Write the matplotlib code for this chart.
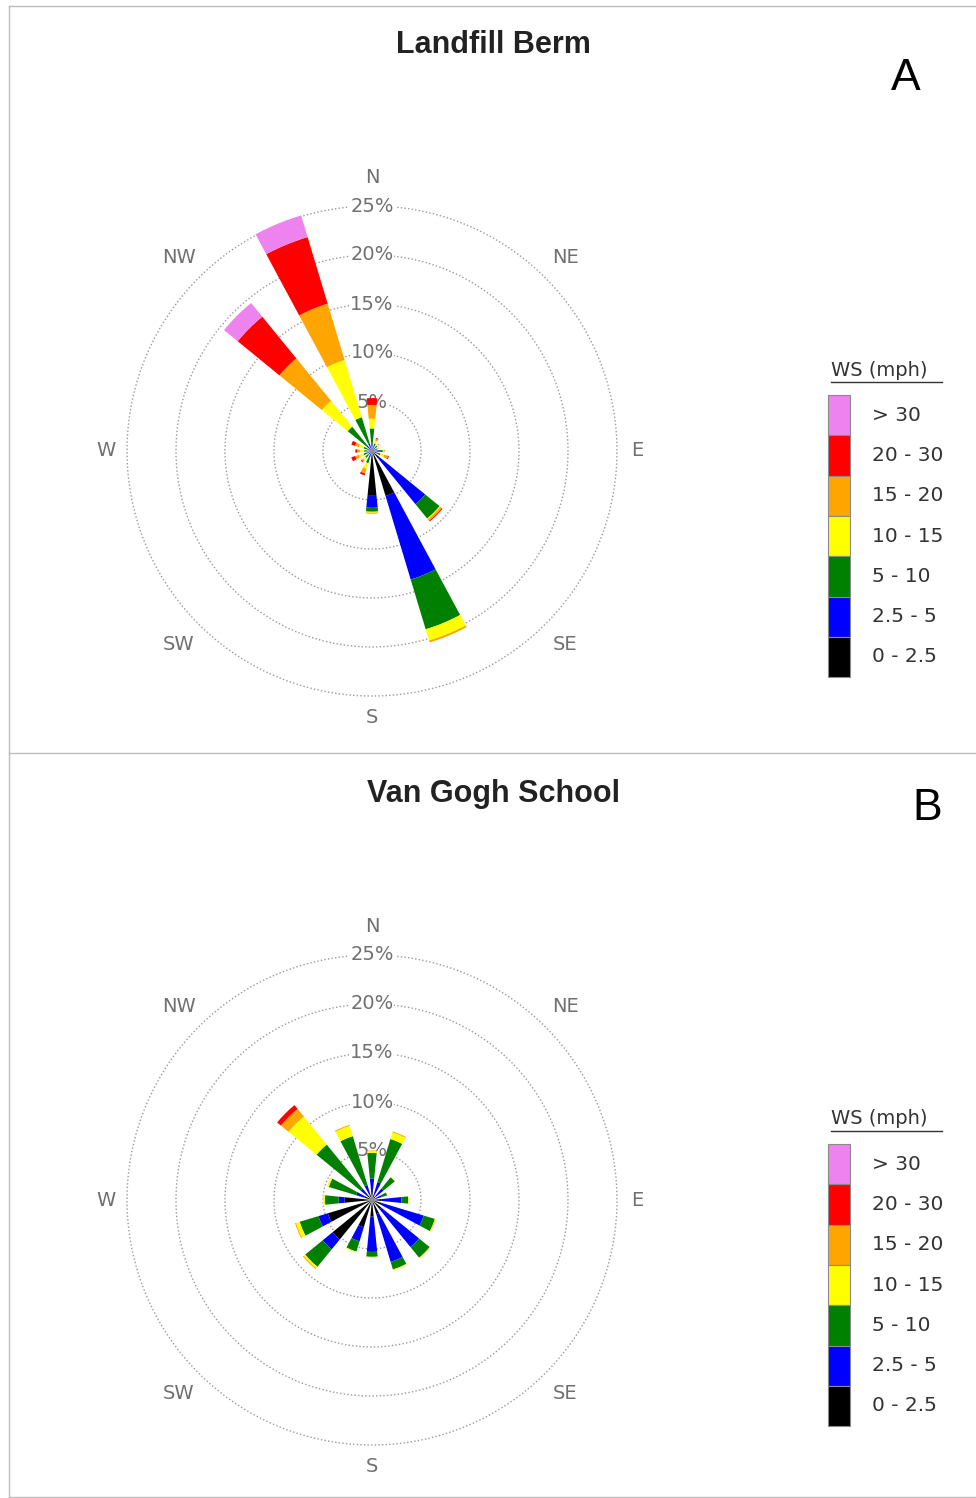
import numpy as np
import matplotlib.pyplot as plt
from matplotlib.patches import Rectangle
from matplotlib.lines import Line2D

# direction sectors, clockwise from north
directions = ['N', 'NNE', 'NE', 'ENE', 'E', 'ESE', 'SE', 'SSE',
              'S', 'SSW', 'SW', 'WSW', 'W', 'WNW', 'NW', 'NNW']
speed_bins = ['0 - 2.5', '2.5 - 5', '5 - 10', '10 - 15', '15 - 20', '20 - 30', '> 30']
bin_colors = ['#000000', '#0000ff', '#008000', '#ffff00', '#ffa500', '#ff0000', '#ee82ee']

# Landfill Berm: frequency (%) per direction for each speed class
berm_0_25 = [0.4, 0.2, 0.2, 0.2, 0.3, 0.2, 1.0, 4.8, 4.5, 0.3, 0.2, 0.2, 0.2, 0.2, 0.3, 0.3]
berm_25_5 = [0.4, 0.2, 0.2, 0.2, 0.5, 0.3, 6.0, 8.9, 1.3, 0.4, 0.3, 0.2, 0.2, 0.2, 0.4, 0.5]
berm_5_10 = [1.5, 0.4, 0.3, 0.2, 0.3, 0.4, 1.9, 5.3, 0.4, 0.6, 0.4, 0.5, 0.4, 0.5, 2.5, 2.8]
berm_10_15 = [1.0, 0.3, 0.2, 0.1, 0.1, 0.4, 0.1, 1.2, 0.1, 0.6, 0.3, 0.5, 0.4, 0.5, 3.4, 6.1]
berm_15_20 = [1.4, 0.2, 0.1, 0.1, 0.1, 0.4, 0.2, 0.2, 0.1, 0.5, 0.2, 0.4, 0.3, 0.4, 5.6, 6.0]
berm_20_30 = [0.7, 0.1, 0.0, 0.0, 0.0, 0.1, 0.1, 0.0, 0.0, 0.2, 0.1, 0.4, 0.2, 0.4, 5.5, 7.1]
berm_30 = [0.0, 0.0, 0.0, 0.0, 0.0, 0.0, 0.0, 0.0, 0.0, 0.0, 0.0, 0.0, 0.0, 0.0, 1.8, 2.3]

# Van Gogh School
school_0_25 = [1.0, 0.6, 0.5, 0.4, 1.0, 1.0, 1.2, 1.5, 1.7, 2.9, 5.2, 4.7, 2.8, 0.8, 0.6, 0.6]
school_25_5 = [1.2, 1.3, 1.0, 0.6, 2.0, 4.5, 5.0, 5.1, 3.6, 1.5, 1.3, 1.0, 0.6, 0.9, 0.9, 1.0]
school_5_10 = [2.6, 4.6, 1.5, 0.6, 0.7, 1.2, 1.4, 0.8, 0.5, 1.1, 2.3, 2.0, 1.4, 2.9, 5.8, 5.2]
school_10_15 = [0.2, 0.7, 0.05, 0.0, 0.05, 0.1, 0.1, 0.1, 0.1, 0.1, 0.2, 0.4, 0.2, 0.2, 3.7, 1.1]
school_15_20 = [0.05, 0.1, 0.0, 0.0, 0.0, 0.0, 0.0, 0.0, 0.0, 0.0, 0.1, 0.1, 0.0, 0.0, 1.0, 0.1]
school_20_30 = [0.0, 0.0, 0.0, 0.0, 0.0, 0.0, 0.0, 0.0, 0.0, 0.0, 0.0, 0.0, 0.0, 0.0, 0.5, 0.0]
school_30 = [0.0] * 16

berm = [berm_0_25, berm_25_5, berm_5_10, berm_10_15, berm_15_20, berm_20_30, berm_30]
school = [school_0_25, school_25_5, school_5_10, school_10_15, school_15_20, school_20_30, school_30]

rings = [5, 10, 15, 20, 25]
compass = {'N': 0, 'NE': 45, 'E': 90, 'SE': 135, 'S': 180, 'SW': 225, 'W': 270, 'NW': 315}
compass_r = {'N': 27.9, 'NE': 27.9, 'E': 27.1, 'SE': 27.9, 'S': 27.2, 'SW': 27.9, 'W': 27.1, 'NW': 27.9}

W, H = 976, 1498
PX_PER_PCT = 9.8
RMAX = 28

fig = plt.figure(figsize=(W / 100, H / 100), dpi=100)


def fx(x):
    return x / W


def fy(y):
    return 1 - y / H


def rose(cx, cy, title, letter, letter_xy, bins):
    rad = RMAX * PX_PER_PCT
    ax = fig.add_axes([fx(cx - rad), fy(cy + rad), 2 * rad / W, 2 * rad / H],
                      projection='polar')
    ax.set_theta_zero_location('N')
    ax.set_theta_direction(-1)
    ax.set_ylim(0, RMAX)
    ax.axis('off')

    theta = np.deg2rad(np.arange(16) * 22.5)
    width = np.deg2rad(11.5)
    bottom = np.zeros(16)
    for vals, col in zip(bins, bin_colors):
        vals = np.array(vals)
        ax.bar(theta, vals, width=width, bottom=bottom, color=col,
               edgecolor='none', zorder=3)
        bottom += vals

    t = np.linspace(0, 2 * np.pi, 500)
    for r in rings:
        ax.plot(t, np.full_like(t, r), ls=(0, (1, 1.6)), color='#9a9a9a', lw=1, zorder=1)
        ax.text(0, r, f'{r}%', ha='center', va='center', fontsize=14, color='#707070',
                bbox=dict(fc='white', ec='none', pad=0.5), zorder=2)
    for name, ang in compass.items():
        ax.text(np.deg2rad(ang), compass_r[name], name, ha='center', va='center',
                fontsize=14, color='#707070')

    fig.text(fx(cx + 121), fy(cy - 406), title, ha='center', va='center',
             family=['Liberation Sans', 'DejaVu Sans'], weight='bold',
             fontsize=22, color='#222222')
    fig.text(fx(letter_xy[0]), fy(letter_xy[1]), letter, ha='center', va='center',
             family=['Liberation Sans', 'DejaVu Sans'], fontsize=32, color='black')

    # legend for the speed classes
    top = cy - 56
    fig.text(fx(831), fy(cy - 81), 'WS (mph)', ha='left', va='center',
             fontsize=14, color='#333333')
    fig.add_artist(Line2D([fx(831), fx(942)], [fy(cy - 69), fy(cy - 69)],
                          color='#333333', lw=1))
    step = 40.3
    for i, (lab, col) in enumerate(zip(speed_bins[::-1], bin_colors[::-1])):
        y0 = top + i * step
        fig.add_artist(Rectangle((fx(828), fy(y0 + step)), 22 / W, step / H,
                                 facecolor=col, edgecolor='#8a8a8a', lw=0.8))
        fig.text(fx(872), fy(y0 + step / 2), lab, ha='left', va='center',
                 fontsize=14.5, color='#333333')
    return ax


rose(372, 451, 'Landfill Berm', 'A', (906, 78), berm)
rose(372, 1200, 'Van Gogh School', 'B', (927, 808), school)

# panel frames
frame = '#bdbdbd'
fig.add_artist(Line2D([fx(8.5), fx(8.5)], [fy(5.5), fy(1497)], color=frame, lw=1))
fig.add_artist(Line2D([fx(8.5), 1], [fy(5.5), fy(5.5)], color=frame, lw=1))
fig.add_artist(Line2D([fx(8.5), 1], [fy(752.5), fy(752.5)], color=frame, lw=1))
fig.add_artist(Line2D([fx(8.5), 1], [fy(1497), fy(1497)], color=frame, lw=1))

fig.savefig('out.png', dpi=100)
